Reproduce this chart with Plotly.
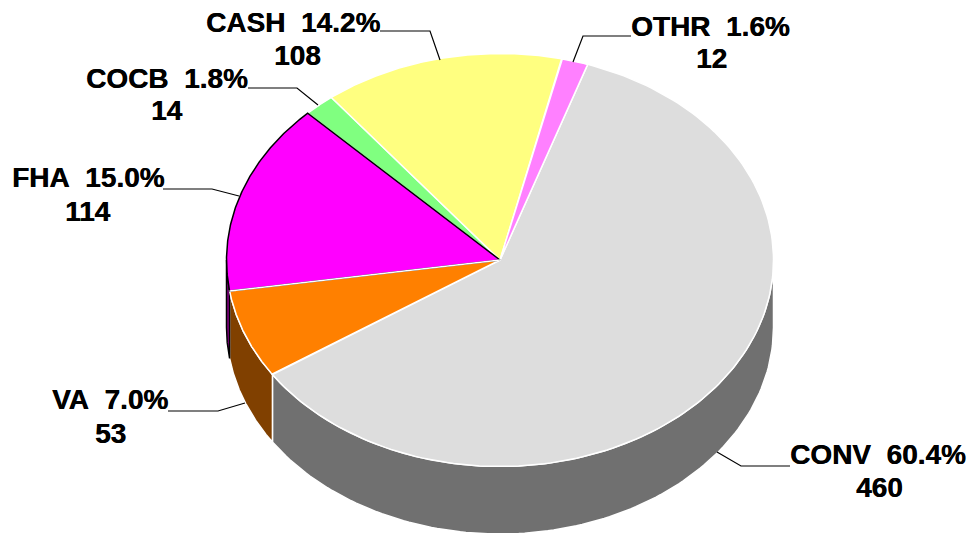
import numpy as np
import plotly.graph_objects as go

categories = ["CONV", "VA", "FHA", "COCB", "CASH", "OTHR"]
values = [460, 53, 114, 14, 108, 12]
percent_labels = ["60.4%", "7.0%", "15.0%", "1.8%", "14.2%", "1.6%"]
top_colors = ["#DDDDDD", "#FF8000", "#FF00FF", "#80FF80", "#FFFF80", "#FF80FF"]
side_colors = ["#707070", "#804000", "#800080", "#408040", "#808040", "#804080"]
edge_colors = ["#FFFFFF", "#FFFFFF", "#000000", "#FFFFFF", "#FFFFFF", "#FFFFFF"]

# label anchor centres (first line, second line) in chart pixels
label_x1 = [878, 110, 88, 167, 293, 710]
label_y1 = [454, 399, 177, 78, 22, 26]
label_x2 = [879, 110, 88, 167, 297, 711]
label_y2 = [487, 433, 211, 110, 55, 58]

leader_x = [[790, 741, 717], [168, 218, 245], [163, 212, 239],
            [248, 297, 318], [380, 430, 440], [631, 583, 573]]
leader_y = [[466, 466, 452], [411, 411, 403], [189, 189, 196],
            [88, 88, 105], [31, 31, 60], [36, 36, 62]]

CX, CY, RX, RY, DEPTH = 500, 260, 273.5, 206.5, 67.5
START_DEG = 18.7

def ell(t_deg):
    t = np.radians(t_deg)
    return CX + RX * np.sin(t), CY - RY * np.cos(t)

total = sum(values)
spans = [v / total * 360 for v in values]
starts = list(START_DEG + np.cumsum([0] + spans[:-1]))

fig = go.Figure()

# sides (only the front half of the cylinder is visible)
for s, sp, c in zip(starts, spans, side_colors):
    a, b = max(s, 90), min(s + sp, 270)
    if b <= a:
        continue
    t = np.linspace(a, b, 120)
    x, y = ell(t)
    px = np.concatenate([x, x[::-1], x[:1]])
    py = np.concatenate([y, y[::-1] + DEPTH, y[:1]])
    fig.add_trace(go.Scatter(x=px, y=py, mode="lines", fill="toself", fillcolor=c,
                             line=dict(color="#FFFFFF" if c != "#800080" else "#000000", width=1.5),
                             hoverinfo="skip", showlegend=False))

# top faces: black-edged slice is drawn last so its outline stays visible
order = [0, 1, 3, 4, 5, 2]
for i in order:
    t = np.linspace(starts[i], starts[i] + spans[i], 160)
    x, y = ell(t)
    px = np.concatenate([[CX], x, [CX]])
    py = np.concatenate([[CY], y, [CY]])
    fig.add_trace(go.Scatter(x=px, y=py, mode="lines", fill="toself", fillcolor=top_colors[i],
                             line=dict(color=edge_colors[i], width=1.5),
                             name=categories[i], hoverinfo="name", showlegend=False))

# white seam where VA meets FHA, over the black outline
sx, sy = ell(starts[2])
fig.add_trace(go.Scatter(x=[CX, sx], y=[CY, sy], mode="lines",
                         line=dict(color="#FFFFFF", width=1.5),
                         hoverinfo="skip", showlegend=False))

for lx, ly in zip(leader_x, leader_y):
    fig.add_trace(go.Scatter(x=lx, y=ly, mode="lines", line=dict(color="#000000", width=1.2),
                             hoverinfo="skip", showlegend=False))

font = dict(family="Liberation Sans", size=28, color="#000000", shadow="0.4px 0 0 #000000")
for i, cat in enumerate(categories):
    fig.add_annotation(x=label_x1[i], y=label_y1[i], showarrow=False, font=font,
                       text=f"<b>{cat}\u00a0\u00a0{percent_labels[i]}</b>")
    fig.add_annotation(x=label_x2[i], y=label_y2[i], showarrow=False, font=font,
                       text=f"<b>{values[i]}</b>")

fig.update_layout(
    width=968, height=533, margin=dict(l=0, r=0, t=0, b=0),
    paper_bgcolor="#FFFFFF", plot_bgcolor="#FFFFFF",
    xaxis=dict(range=[0, 968], visible=False, fixedrange=True),
    yaxis=dict(range=[533, 0], visible=False, fixedrange=True),
)
fig.write_html("out.html", config={"displayModeBar": False},
               post_script="document.body.style.margin='0';document.body.style.overflow='hidden';")
